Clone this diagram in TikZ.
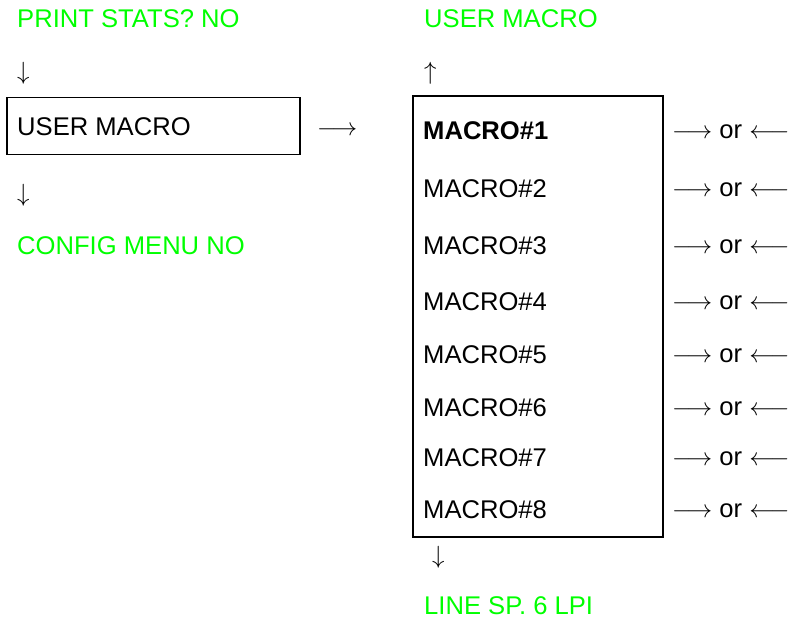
\documentclass[tikz,border=0pt]{standalone}
\usepackage{fontspec}
\setmainfont{Liberation Sans}
\usepackage{xcolor}
\definecolor{panelgreen}{HTML}{00FF00}

\begin{document}
\begin{tikzpicture}[x=1pt, y=-1pt,
      menu/.style={anchor=west, inner sep=0pt, text=panelgreen, font=\fontsize{25.6}{30}\selectfont},
      item/.style={anchor=west, inner sep=0pt, text=black, font=\fontsize{25.6}{30}\selectfont},
      frame/.style={rectangle, draw=black, line width=1.6pt, inner sep=0pt},
    ]
    \useasboundingbox (0,0) rectangle (795,622);

    % left column
    \node[menu] (prev) at (17,19) {PRINT STATS? NO};
    \node[item] (down1) at (17,73) {$\downarrow$};
    \node[frame, minimum width=293pt, minimum height=57pt] (userbox) at (153.5,126) {};
    \node[item] (user) at (17,127) {USER MACRO};
    \node[item] (down2) at (17,195) {$\downarrow$};
    \node[menu] (next) at (17,246) {CONFIG MENU NO};
    \node[item] (enter) at (317,131) {$\longrightarrow$};

    % right column
    \node[menu] (back) at (424,19) {USER MACRO};
    \node[item] (up) at (424,73) {$\uparrow$};
    \node[frame, minimum width=250pt, minimum height=441pt] (macrobox) at (538,316.5) {};
    \node[item] (m1) at (423,131) {\textbf{MACRO\#1}};
    \node[item] (sel1) at (672,132) {$\longrightarrow$ or $\longleftarrow$};
    \foreach \i/\y in {2/189, 3/246, 4/302, 5/355, 6/408, 7/458, 8/510} {
      \node[item] (m\i) at (423,\y) {MACRO\#\i};
      \node[item] (sel\i) at (672,\y+1) {$\longrightarrow$ or $\longleftarrow$};
    }
    \node[item] (down3) at (432,557) {$\downarrow$};
    \node[menu] (after) at (424,606) {LINE SP. 6 LPI};
  \end{tikzpicture}
\end{document}
